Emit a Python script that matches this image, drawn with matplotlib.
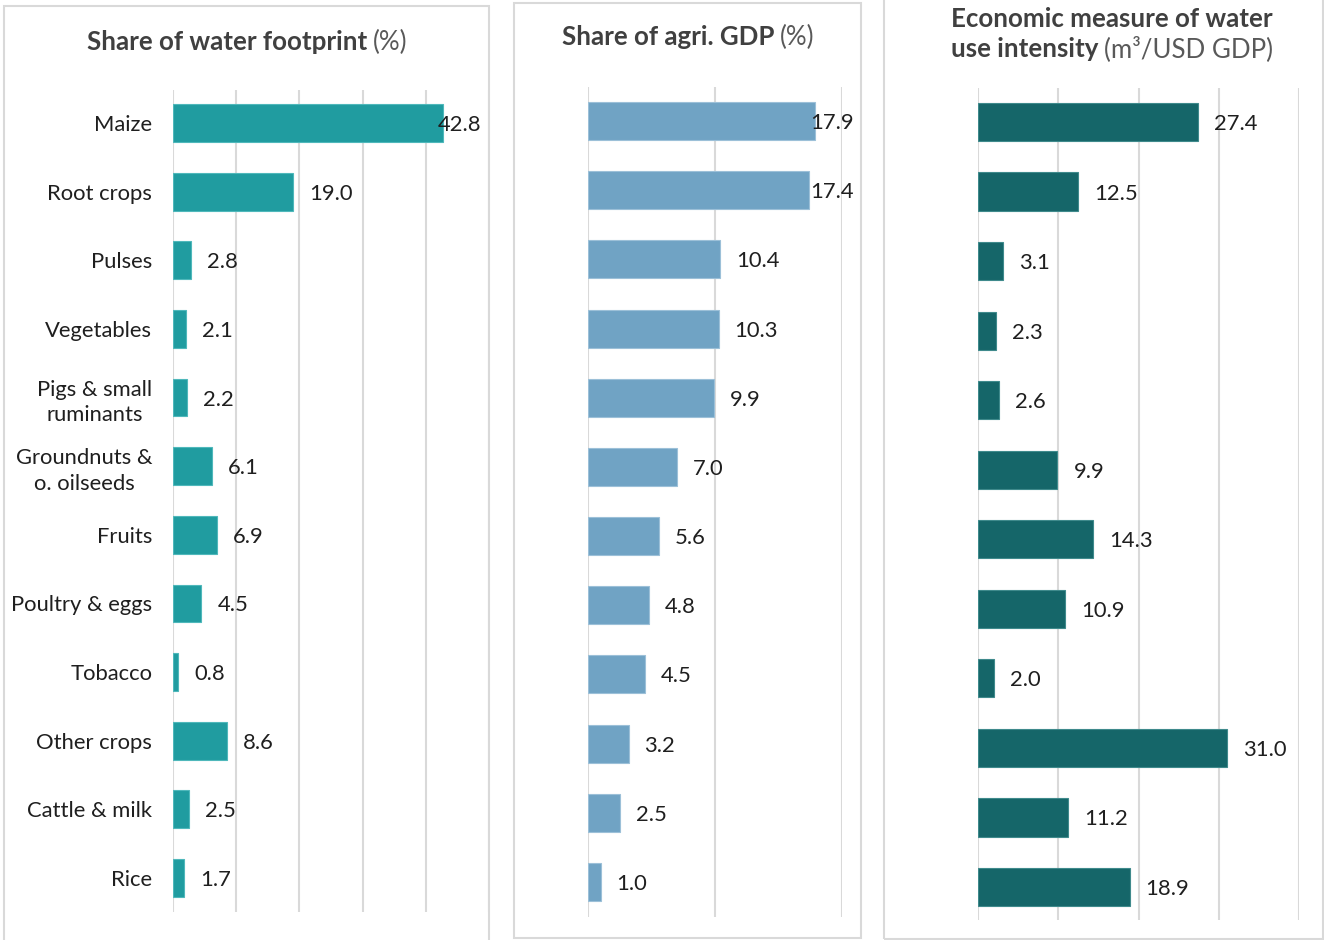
import matplotlib.pyplot as plt
from matplotlib.patches import Rectangle

# crop / product groups, top to bottom
crops = ["Maize", "Root crops", "Pulses", "Vegetables", "Pigs & small\nruminants",
         "Groundnuts &\no. oilseeds", "Fruits", "Poultry & eggs", "Tobacco",
         "Other crops", "Cattle & milk", "Rice"]
water_share = [42.8, 19.0, 2.8, 2.1, 2.2, 6.1, 6.9, 4.5, 0.8, 8.6, 2.5, 1.7]
gdp_share = [17.9, 17.4, 10.4, 10.3, 9.9, 7.0, 5.6, 4.8, 4.5, 3.2, 2.5, 1.0]
intensity = [27.4, 12.5, 3.1, 2.3, 2.6, 9.9, 14.3, 10.9, 2.0, 31.0, 11.2, 18.9]

W, H = 1324, 940
plt.rcParams["font.family"] = ["Lato", "DejaVu Sans"]

fig = plt.figure(figsize=(W / 100, H / 100), dpi=100)
renderer = fig.canvas.get_renderer()

GRID = "#d9d9d9"
TXT = "#1f1f1f"
FS = 15.8


def px_box(left, top, right, bottom):
    # pixel box -> figure fraction rect
    return [left / W, 1 - bottom / H, (right - left) / W, (bottom - top) / H]


# light frames around each panel
for left, top, right, bottom in [(4, 6, 489, 960), (514, 3, 861, 938), (884, -10, 1323, 939)]:
    fig.patches.append(Rectangle((left / W, 1 - bottom / H), (right - left) / W, (bottom - top) / H,
                                 transform=fig.transFigure, fill=False, edgecolor=GRID, lw=1.5))


def title(x_center, y_base, bold, regular):
    # bold lead + regular unit text, centred as one line
    t1 = fig.text(0, 1 - y_base / H, bold, fontsize=18.6, fontweight="bold", color="#404040", va="baseline")
    t2 = fig.text(0, 1 - y_base / H, regular, fontsize=18.6, color="#595959", va="baseline")
    w1 = t1.get_window_extent(renderer).width
    w2 = t2.get_window_extent(renderer).width
    gap = 5 if regular else 0
    start = x_center - (w1 + gap + w2) / 2
    t1.set_x(start / W)
    t2.set_x((start + w1 + gap) / W)


def panel(values, color, edge, xmax, left, right, top, bottom, first, last, text_limit, labels=False):
    ax = fig.add_axes(px_box(left, top, right, bottom))
    n = len(values)
    step = (last - first) / (n - 1)
    ax.barh(range(n), values, height=0.55, color=color, edgecolor=edge, lw=0.8, zorder=3)
    ax.set_xlim(0, xmax)
    ax.set_ylim(n - 1 + (bottom - last) / step, -(first - top) / step)
    ax.set_xticks(range(0, xmax + 1, 10))
    ax.set_xticklabels([])
    ax.grid(axis="x", color=GRID, lw=1.5)
    ax.set_axisbelow(True)
    ax.tick_params(length=0)
    for s in ax.spines.values():
        s.set_visible(False)
    if labels:
        ax.set_yticks(range(n))
        ax.set_yticklabels(crops, fontsize=FS, color=TXT)
        ax.tick_params(axis="y", pad=15)
        for t in ax.get_yticklabels():
            t.set_multialignment("center")
            t.set_linespacing(1.35)
    else:
        ax.set_yticks([])
    # value labels just past the bar end, kept inside the frame
    for i, v in enumerate(values):
        t = ax.annotate(f"{v:.1f}", (v, i), xytext=(11.5, 0), textcoords="offset points",
                        ha="left", va="center_baseline", fontsize=FS, color=TXT, zorder=4)
        ext = t.get_window_extent(renderer)
        if ext.x1 > text_limit:
            t.set_position((-(ext.x1 - text_limit) * 0.72 + 11.5, 0))
    return ax


panel(water_share, "#209ca0", "#4fb8bb", 50, 173, 489, 90, 912, 123, 878, 481, labels=True)
panel(gdp_share, "#70a3c4", "#9cc0d8", 20, 588, 841.6, 87, 917, 121, 882, 854)
panel(intensity, "#156669", "#3f8a8c", 40, 978, 1299, 88, 920, 122, 887, 1315)

title(247, 50, "Share of water footprint", "(%)")
title(688, 45, "Share of agri. GDP", "(%)")
title(1112, 27, "Economic measure of water", "")
title(1112, 57, "use intensity", "(m³/USD GDP)")

fig.savefig("out.png", dpi=100, facecolor="white")
